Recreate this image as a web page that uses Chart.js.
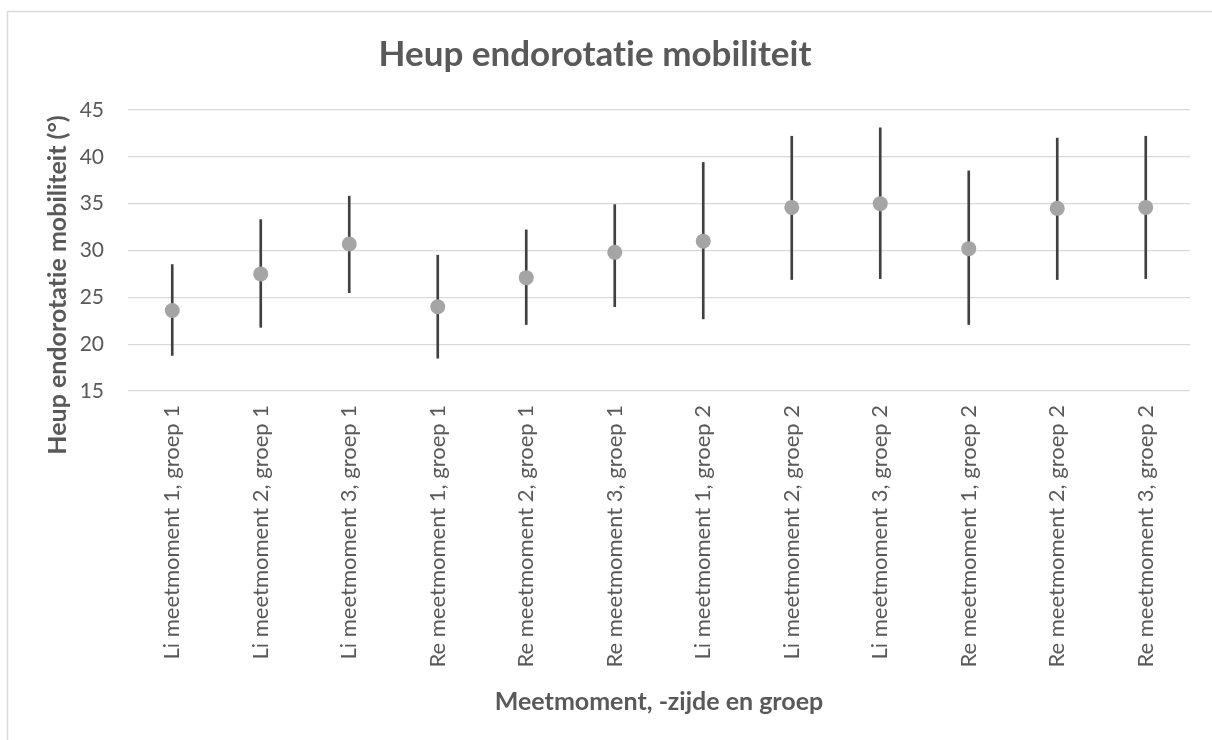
<!DOCTYPE html>
<html>
<head>
<meta charset="utf-8">
<title>Heup endorotatie mobiliteit</title>
<script src="https://cdn.jsdelivr.net/npm/chart.js@4.4.1/dist/chart.umd.min.js"></script>
<style>
  html, body { margin: 0; padding: 0; background: #ffffff; }
  canvas { display: block; }
</style>
</head>
<body>
<canvas id="chart" width="1212" height="740"></canvas>
<script>
// categorieen en meetwaarden (gemiddelde, onder- en bovengrens)
const categories = [
    "Li meetmoment 1, groep 1", "Li meetmoment 2, groep 1", "Li meetmoment 3, groep 1",
    "Re meetmoment 1, groep 1", "Re meetmoment 2, groep 1", "Re meetmoment 3, groep 1",
    "Li meetmoment 1, groep 2", "Li meetmoment 2, groep 2", "Li meetmoment 3, groep 2",
    "Re meetmoment 1, groep 2", "Re meetmoment 2, groep 2", "Re meetmoment 3, groep 2"
];
const means = [23.6, 27.5, 30.7, 24.0, 27.1, 29.8, 31.0, 34.6, 35.0, 30.2, 34.5, 34.6];
const lows  = [18.8, 21.8, 25.5, 18.5, 22.1, 24.0, 22.7, 26.9, 27.0, 22.1, 26.9, 27.0];
const highs = [28.5, 33.3, 35.8, 29.5, 32.2, 34.9, 39.4, 42.2, 43.1, 38.5, 42.0, 42.2];
const yTicks = [15, 20, 25, 30, 35, 40, 45];
const yTitle = "Heup endorotatie mobiliteit (°)";

const textColor = "#595959";
const fontName = "Lato";

// lichtgrijze rand om de grafiek
const frame = {
    id: "frame",
    beforeDraw(chart) {
        const ctx = chart.ctx;
        // geen "ti"-ligaturen in de teksten
        ctx.textRendering = "optimizeSpeed";
        ctx.save();
        ctx.fillStyle = "#ffffff";
        ctx.fillRect(0, 0, chart.width, chart.height);
        ctx.strokeStyle = "#d9d9d9";
        ctx.lineWidth = 1.5;
        ctx.strokeRect(7.5, 11.5, 1300, 800);
        ctx.restore();
    }
};

// y-as titel, iets lager dan het midden (zoals in Excel)
const yAxisTitle = {
    id: "yAxisTitle",
    afterDraw(chart) {
        const ctx = chart.ctx;
        ctx.save();
        ctx.translate(58, 285);
        ctx.rotate(-Math.PI / 2);
        ctx.font = "bold 25px " + fontName;
        ctx.fillStyle = textColor;
        ctx.textAlign = "center";
        ctx.textBaseline = "middle";
        ctx.fillText(yTitle, 0, 0);
        ctx.restore();
    }
};

const ranges = lows.map((lo, i) => [lo, highs[i]]);

new Chart(document.getElementById("chart").getContext("2d"), {
    data: {
        labels: categories,
        datasets: [{
            type: "line",
            label: "Gemiddelde",
            data: means,
            showLine: false,
            pointRadius: 7.5,
            pointHoverRadius: 7.5,
            pointBackgroundColor: "#a5a5a5",
            pointBorderWidth: 0,
            order: 0
        }, {
            type: "bar",
            label: "Spreiding",
            data: ranges,
            backgroundColor: "#404040",
            barThickness: 2,
            order: 1
        }]
    },
    options: {
        responsive: false,
        animation: false,
        devicePixelRatio: 1,
        layout: { padding: { left: 0, right: 22, top: 0, bottom: 0 } },
        plugins: {
            legend: { display: false },
            tooltip: { enabled: false },
            title: {
                display: true,
                text: "Heup endorotatie mobiliteit",
                color: textColor,
                font: { family: fontName, size: 35, weight: "bold" },
                padding: { top: 34, bottom: 34 }
            }
        },
        scales: {
            x: {
                grid: { display: false, drawTicks: false },
                border: { display: false },
                ticks: {
                    color: textColor,
                    font: { family: fontName, size: 22 },
                    minRotation: 90,
                    maxRotation: 90,
                    padding: 14,
                    autoSkip: false
                },
                title: {
                    display: true,
                    text: "Meetmoment, -zijde en groep",
                    color: textColor,
                    font: { family: fontName, size: 25, weight: "bold" },
                    padding: { top: 0, bottom: 23 }
                },
                afterFit(scale) { scale.height = 349; }
            },
            y: {
                min: 15,
                max: 45,
                afterBuildTicks(scale) { scale.ticks = yTicks.map(v => ({ value: v })); },
                grid: { color: "#d9d9d9", lineWidth: 1.3, drawTicks: false },
                border: { display: false },
                ticks: {
                    color: textColor,
                    font: { family: fontName, size: 21 },
                    padding: 24
                },
                afterFit(scale) { scale.width = 128; }
            }
        }
    },
    plugins: [frame, yAxisTitle]
});
</script>
</body>
</html>
